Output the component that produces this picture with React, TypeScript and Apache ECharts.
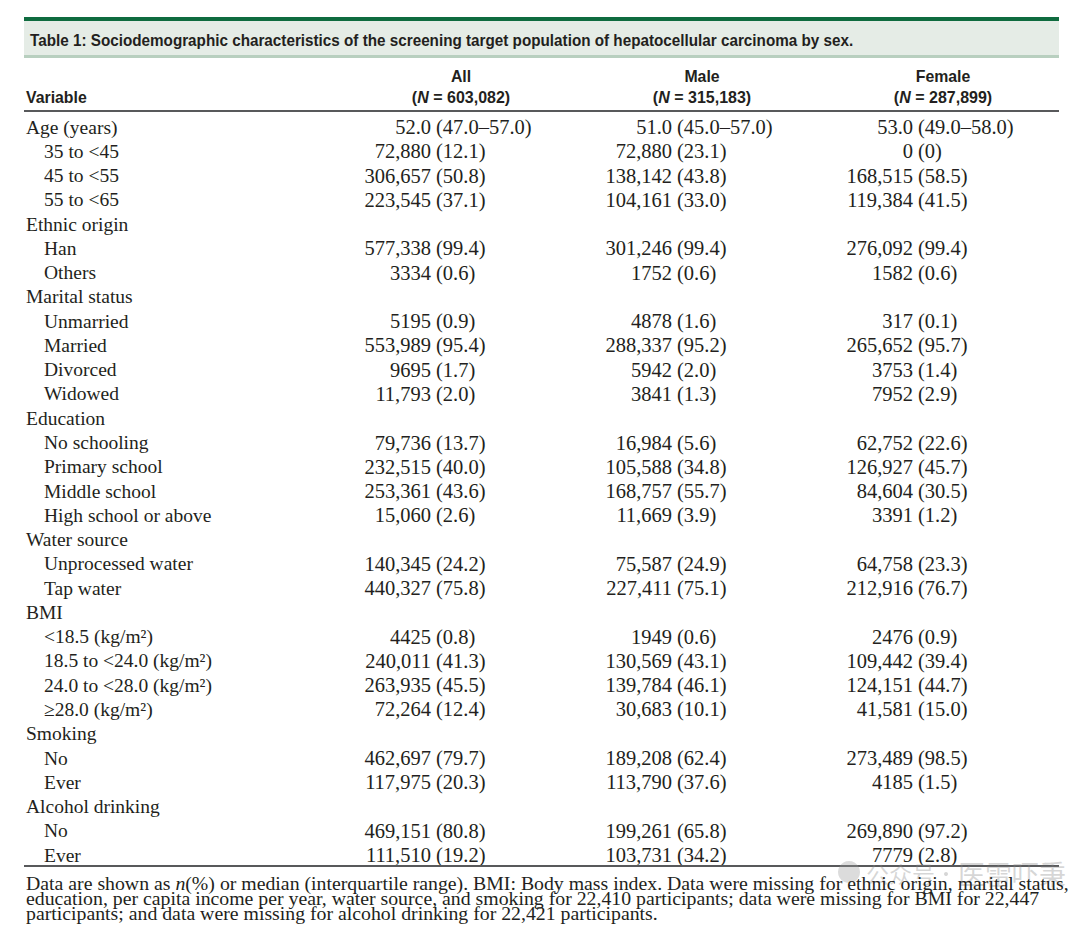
import React, { useEffect, useRef } from "react";
import * as echarts from "echarts";

const title = "Table 1: Sociodemographic characteristics of the screening target population of hepatocellular carcinoma by sex.";
const groupNames = ["All", "Male", "Female"];
const groupN = ["603,082", "315,183", "287,899"];

const rowLabels = [
  "Age (years)", "35 to <45", "45 to <55", "55 to <65",
  "Ethnic origin", "Han", "Others",
  "Marital status", "Unmarried", "Married", "Divorced", "Widowed",
  "Education", "No schooling", "Primary school", "Middle school", "High school or above",
  "Water source", "Unprocessed water", "Tap water",
  "BMI", "<18.5 (kg/m²)", "18.5 to <24.0 (kg/m²)", "24.0 to <28.0 (kg/m²)", "≥28.0 (kg/m²)",
  "Smoking", "No", "Ever",
  "Alcohol drinking", "No", "Ever",
];
const rowIndent = [0,1,1,1, 0,1,1, 0,1,1,1,1, 0,1,1,1,1, 0,1,1, 0,1,1,1,1, 0,1,1, 0,1,1];

const allN = ["52.0","72,880","306,657","223,545","","577,338","3334","","5195","553,989","9695","11,793","","79,736","232,515","253,361","15,060","","140,345","440,327","","4425","240,011","263,935","72,264","","462,697","117,975","","469,151","111,510"];
const allPct = ["(47.0–57.0)","(12.1)","(50.8)","(37.1)","","(99.4)","(0.6)","","(0.9)","(95.4)","(1.7)","(2.0)","","(13.7)","(40.0)","(43.6)","(2.6)","","(24.2)","(75.8)","","(0.8)","(41.3)","(45.5)","(12.4)","","(79.7)","(20.3)","","(80.8)","(19.2)"];
const maleN = ["51.0","72,880","138,142","104,161","","301,246","1752","","4878","288,337","5942","3841","","16,984","105,588","168,757","11,669","","75,587","227,411","","1949","130,569","139,784","30,683","","189,208","113,790","","199,261","103,731"];
const malePct = ["(45.0–57.0)","(23.1)","(43.8)","(33.0)","","(99.4)","(0.6)","","(1.6)","(95.2)","(2.0)","(1.3)","","(5.6)","(34.8)","(55.7)","(3.9)","","(24.9)","(75.1)","","(0.6)","(43.1)","(46.1)","(10.1)","","(62.4)","(37.6)","","(65.8)","(34.2)"];
const femaleN = ["53.0","0","168,515","119,384","","276,092","1582","","317","265,652","3753","7952","","62,752","126,927","84,604","3391","","64,758","212,916","","2476","109,442","124,151","41,581","","273,489","4185","","269,890","7779"];
const femalePct = ["(49.0–58.0)","(0)","(58.5)","(41.5)","","(99.4)","(0.6)","","(0.1)","(95.7)","(1.4)","(2.9)","","(22.6)","(45.7)","(30.5)","(1.2)","","(23.3)","(76.7)","","(0.9)","(39.4)","(44.7)","(15.0)","","(98.5)","(1.5)","","(97.2)","(2.8)"];

const footLines = [
  "Data are shown as {i|n}(%) or median (interquartile range). BMI: Body mass index. Data were missing for ethnic origin, marital status,",
  "education, per capita income per year, water source, and smoking for 22,410 participants; data were missing for BMI for 22,447",
  "participants; and data were missing for alcohol drinking for 22,421 participants.",
];
const watermarkA = "公众号";
const watermarkB = "医雷吓秉";

const SERIF = "'Liberation Serif', 'Times New Roman', serif";
const SANS = "'Liberation Sans', Arial, sans-serif";

export default function App() {
  const ref = useRef<HTMLDivElement>(null);
  useEffect(() => {
    const chart = echarts.init(ref.current!, null, { renderer: "svg" });
    const els: any[] = [];
    const L = 24, R = 1059;
    const txt = (x: number, y: number, text: string, o: any = {}) => ({
      type: "text", x, y, silent: true, scaleX: o.scaleX || 1,
      style: {
        text, fill: o.fill || "#231f20", fontFamily: o.fontFamily || SERIF,
        fontSize: o.fontSize || 19.5, fontWeight: o.fontWeight || "normal",
        align: o.align || "left", verticalAlign: "middle",
        textAlign: o.align || "left", textVerticalAlign: "middle",
        rich: o.rich, opacity: o.opacity,
      },
    });
    // header bands
    els.push({ type: "rect", shape: { x: L, y: 17, width: R - L, height: 4 }, style: { fill: "#0f6b3f" } });
    els.push({ type: "rect", shape: { x: L, y: 21, width: R - L, height: 34 }, style: { fill: "#e5ece6" } });
    els.push({ type: "rect", shape: { x: L, y: 55, width: R - L, height: 3 }, style: { fill: "#b8cfbf" } });
    els.push(txt(30, 40, title, { fontFamily: SANS, fontWeight: "bold", fontSize: 16.5, scaleX: 0.925 }));
    // column header
    els.push(txt(26, 97, "Variable", { fontFamily: SANS, fontWeight: "bold", fontSize: 16.5, scaleX: 0.96 }));
    const centers = [461, 702, 943];
    const richN = {
      i: { fontFamily: SANS, fontWeight: "bold", fontStyle: "italic", fontSize: 16.5, fill: "#231f20" },
    };
    groupNames.forEach((g, k) => {
      els.push(txt(centers[k], 76, g, { fontFamily: SANS, fontWeight: "bold", fontSize: 16.5, align: "center", scaleX: 0.96 }));
      els.push(txt(centers[k], 97, `({i|N} = ${groupN[k]})`, { fontFamily: SANS, fontWeight: "bold", fontSize: 16.5, align: "center", rich: richN, scaleX: 0.97 }));
    });
    els.push({ type: "rect", shape: { x: L, y: 110, width: R - L, height: 2 }, style: { fill: "#58595b" } });
    // body
    const splitX = [433, 674, 915];
    const cols = [[allN, allPct], [maleN, malePct], [femaleN, femalePct]];
    rowLabels.forEach((lab, i) => {
      const y = 127 + i * 24.27;
      els.push(txt(rowIndent[i] ? 44 : 26, y, lab));
      cols.forEach(([nArr, pArr], k) => {
        if (nArr[i]) {
          els.push(txt(splitX[k] - 2, y, nArr[i], { align: "right", fontSize: 20.5 }));
          els.push(txt(splitX[k] + 3, y, pArr[i], { align: "left", fontSize: 20.5 }));
        }
      });
    });
    els.push({ type: "rect", shape: { x: L, y: 865, width: R - L, height: 2 }, style: { fill: "#58595b" } });
    // watermark
    els.push({ type: "circle", shape: { cx: 849, cy: 872, r: 11 }, style: { fill: "#9a9a9a", opacity: 0.35 } });
    els.push(txt(866, 873, watermarkA, { fontFamily: "'Noto Sans CJK SC', sans-serif", fontSize: 23, fill: "#8a8a8a", opacity: 0.35 }));
    els.push({ type: "circle", shape: { cx: 946, cy: 874, r: 2 }, style: { fill: "#8a8a8a", opacity: 0.35 } });
    els.push(txt(958, 873, watermarkB, { fontFamily: "'Noto Sans CJK SC', sans-serif", fontSize: 27, fill: "#8a8a8a", opacity: 0.35 }));
    // footnote
    const richFoot = { i: { fontFamily: SERIF, fontStyle: "italic", fontSize: 19.8, fill: "#231f20" } };
    footLines.forEach((t, j) => {
      els.push(txt(26, 883 + j * 15, t, { rich: richFoot, fontSize: 19.8 }));
    });
    chart.setOption({ animation: false, graphic: { elements: els } });
    return () => chart.dispose();
  }, []);
  return <div ref={ref} style={{ position: "absolute", left: 0, top: 0, width: 1080, height: 929, background: "#fff" }} />;
}
